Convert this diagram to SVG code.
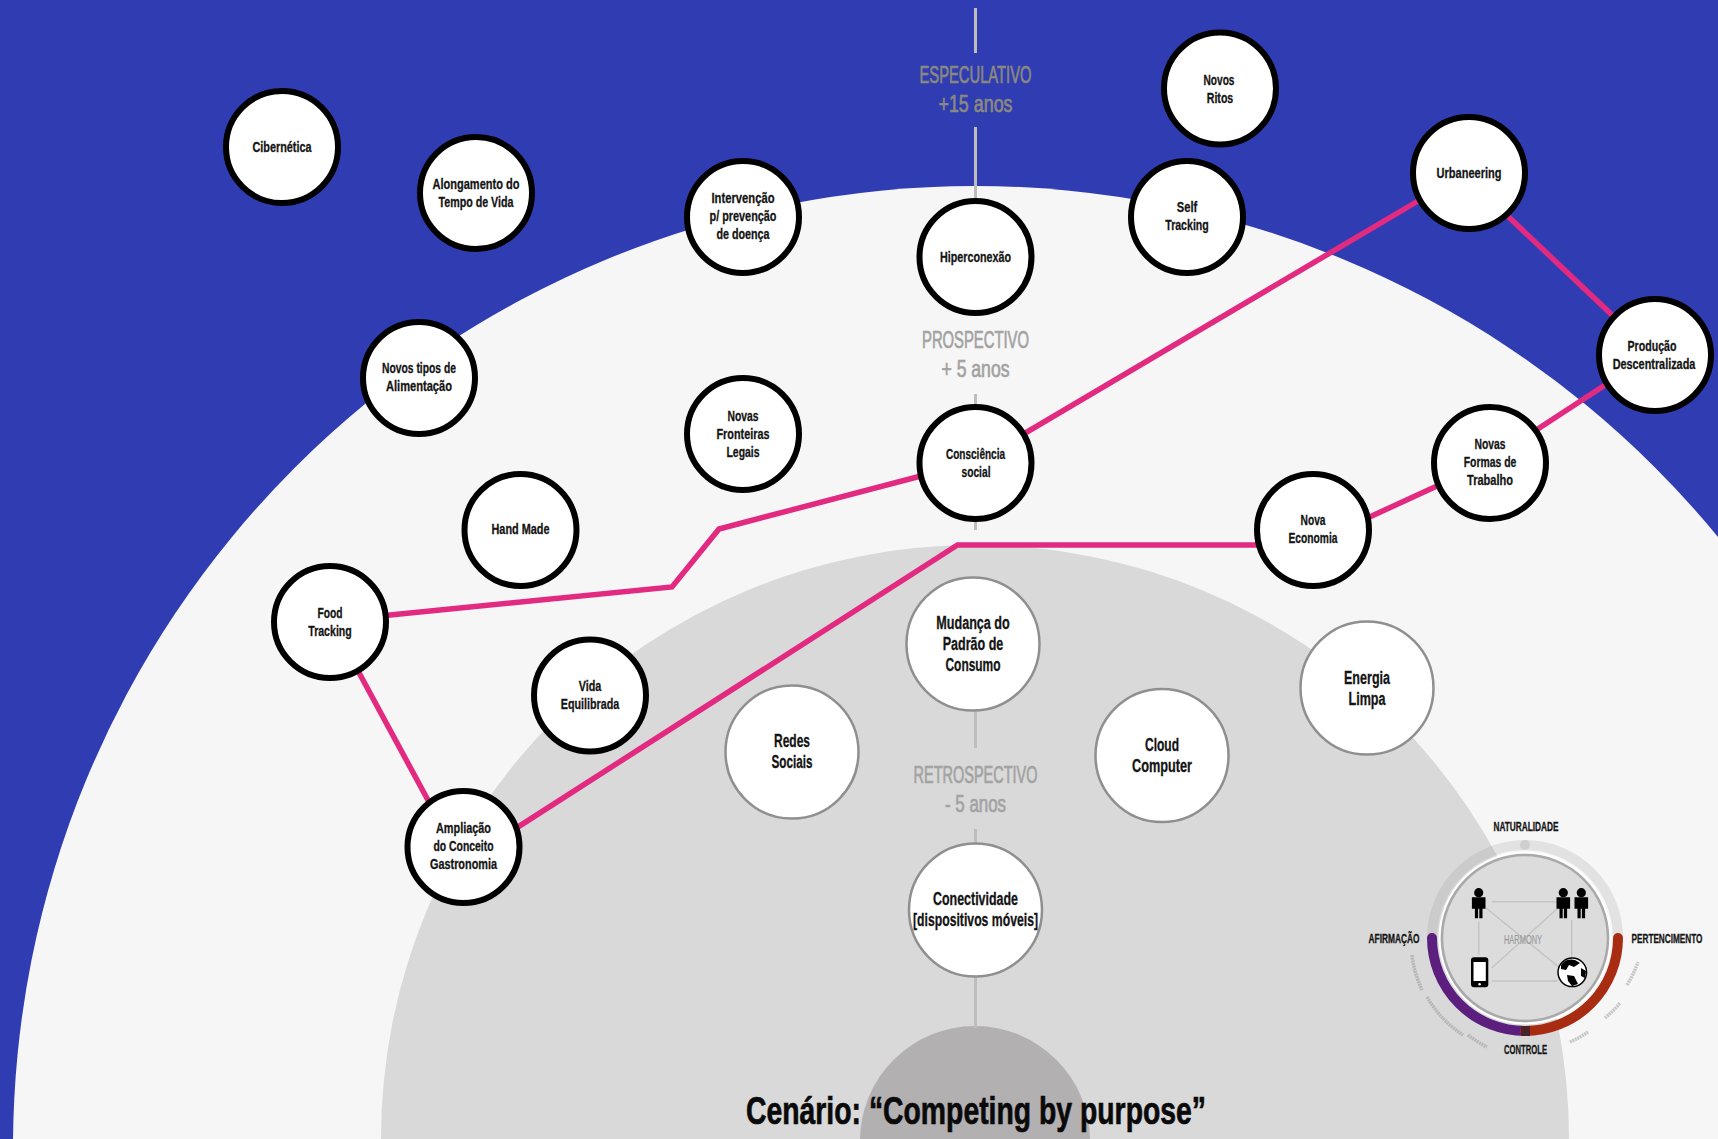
<svg xmlns="http://www.w3.org/2000/svg" xmlns:xlink="http://www.w3.org/1999/xlink" width="1718" height="1139" viewBox="0 0 1718 1139">
<style>
text{font-family:"Liberation Sans Narrow","Liberation Sans",Arial,sans-serif;font-weight:700;text-anchor:middle;fill:#141414;stroke:#141414;stroke-width:.3}
.n circle{fill:#fff;stroke:#000;stroke-width:6}
.n text{font-size:15px}
.g circle{fill:#fff;stroke:#8f8f8f;stroke-width:2.5}
.g text{font-size:18px}
.pink{fill:none;stroke:#e22a80;stroke-width:5.5;stroke-linejoin:miter}
.axis{stroke:#bdbdbd;stroke-width:3;fill:none}
.era{font-size:24px;font-weight:400;fill:#a2a2a2;stroke:#a2a2a2;stroke-width:.7}
.spec{fill:#8b8a80;stroke:#8b8a80}
.thin{stroke:#c4c4c4;stroke-width:1.5;fill:none}
.cap{font-size:12px}
.micro{fill:none;stroke:#8d8d8d;stroke-width:3.5;stroke-dasharray:2 .7;opacity:.45}
.title{font-size:39px;stroke-width:.7;stroke:#0a0a0a;fill:#0a0a0a}
.harm{font-size:13px;font-weight:400;fill:#979797;stroke:#979797;stroke-width:.15}
</style>
<defs>
<g id="person"><circle cx="0" cy="0" r="4.6" fill="#000"/><path d="M-6.8 4.5H6.8V16H3.8V25.500H.6V16H-.6V25.500H-3.800V16H-6.800Z" fill="#000"/></g>
</defs>
<rect id="background" width="1718" height="1139" fill="#303cb2"/>
<circle id="zone-prospective" cx="975" cy="1148" r="962" fill="#f6f6f6"/>
<circle id="zone-retrospective" cx="975" cy="1139" r="594" fill="#d9d9d9"/>
<circle id="zone-core" cx="975" cy="1141" r="115" fill="#b2b0b1"/>

<g id="axis">
<path class="axis" d="M975.5 8V53M975.5 127V200M975.5 394V530M975.5 580V748M975.5 829V850M975.5 975V1028"/>
</g>
<g id="era-labels">
<text class="era spec" x="975.5" y="83" textLength="112" lengthAdjust="spacingAndGlyphs">ESPECULATIVO</text>
<text class="era spec" x="975.5" y="112" textLength="74" lengthAdjust="spacingAndGlyphs">+15 anos</text>
<text class="era" x="975.5" y="348" textLength="107" lengthAdjust="spacingAndGlyphs">PROSPECTIVO</text>
<text class="era" x="975.5" y="377" textLength="68" lengthAdjust="spacingAndGlyphs">+ 5 anos</text>
<text class="era" x="975.5" y="783" textLength="124" lengthAdjust="spacingAndGlyphs">RETROSPECTIVO</text>
<text class="era" x="975.5" y="812" textLength="61" lengthAdjust="spacingAndGlyphs">- 5 anos</text>
</g>

<g id="connectors">
<path class="pink" d="M1440 188L1010 442"/>
<path class="pink" d="M1495 204L1630 332"/>
<path class="pink" d="M1625 372L1521 440"/>
<path class="pink" d="M1450 480L1350 526"/>
<path class="pink" d="M1290 545H957.5L500 838.500"/>
<path class="pink" d="M350 656L436 815"/>
<path class="pink" d="M370 617L672 587L719 529L940 471"/>
</g>

<g id="cibernetica" class="n"><circle cx="282" cy="147" r="56"/><text x="282" y="152" textLength="59" lengthAdjust="spacingAndGlyphs">Cibernética</text></g>
<g id="alongamento" class="n"><circle cx="476" cy="193" r="56"/><text x="476" y="189" textLength="87" lengthAdjust="spacingAndGlyphs">Alongamento do</text><text x="476" y="207" textLength="75" lengthAdjust="spacingAndGlyphs">Tempo de Vida</text></g>
<g id="intervencao" class="n"><circle cx="743" cy="217" r="56"/><text x="743" y="203" textLength="63" lengthAdjust="spacingAndGlyphs">Intervenção</text><text x="743" y="221" textLength="67" lengthAdjust="spacingAndGlyphs">p/ prevenção</text><text x="743" y="239" textLength="53" lengthAdjust="spacingAndGlyphs">de doença</text></g>
<g id="novos-ritos" class="n"><circle cx="1220" cy="88.500" r="56"/><text x="1219" y="85" textLength="31" lengthAdjust="spacingAndGlyphs">Novos</text><text x="1220" y="103" textLength="26.500" lengthAdjust="spacingAndGlyphs">Ritos</text></g>
<g id="self-tracking" class="n"><circle cx="1187" cy="217" r="56"/><text x="1187" y="212" textLength="20.500" lengthAdjust="spacingAndGlyphs">Self</text><text x="1187" y="230" textLength="43.500" lengthAdjust="spacingAndGlyphs">Tracking</text></g>
<g id="urbaneering" class="n"><circle cx="1469" cy="173" r="56"/><text x="1469" y="178" textLength="65" lengthAdjust="spacingAndGlyphs">Urbaneering</text></g>
<g id="hiperconexao" class="n"><circle cx="975.500" cy="257" r="56"/><text x="975.500" y="262" textLength="71" lengthAdjust="spacingAndGlyphs">Hiperconexão</text></g>
<g id="novos-tipos" class="n"><circle cx="419" cy="378" r="56"/><text x="419" y="373" textLength="74" lengthAdjust="spacingAndGlyphs">Novos tipos de</text><text x="419" y="391" textLength="66" lengthAdjust="spacingAndGlyphs">Alimentação</text></g>
<g id="novas-fronteiras" class="n"><circle cx="743" cy="434" r="56"/><text x="743" y="421" textLength="31" lengthAdjust="spacingAndGlyphs">Novas</text><text x="743" y="439" textLength="53" lengthAdjust="spacingAndGlyphs">Fronteiras</text><text x="743" y="457" textLength="33" lengthAdjust="spacingAndGlyphs">Legais</text></g>
<g id="consciencia" class="n"><circle cx="975.500" cy="463" r="56"/><text x="975.500" y="458.500" textLength="59" lengthAdjust="spacingAndGlyphs">Consciência</text><text x="976" y="476.500" textLength="29" lengthAdjust="spacingAndGlyphs">social</text></g>
<g id="producao" class="n"><circle cx="1655" cy="355" r="56"/><text x="1652" y="351" textLength="49" lengthAdjust="spacingAndGlyphs">Produção</text><text x="1654" y="369" textLength="82.600" lengthAdjust="spacingAndGlyphs" style="font-size:14px">Descentralizada</text></g>
<g id="novas-formas" class="n"><circle cx="1490" cy="463" r="56"/><text x="1490" y="449" textLength="31" lengthAdjust="spacingAndGlyphs">Novas</text><text x="1490" y="467" textLength="52.600" lengthAdjust="spacingAndGlyphs">Formas de</text><text x="1490" y="485" textLength="46" lengthAdjust="spacingAndGlyphs">Trabalho</text></g>
<g id="nova-economia" class="n"><circle cx="1313" cy="530" r="56"/><text x="1313" y="525" textLength="25" lengthAdjust="spacingAndGlyphs">Nova</text><text x="1313" y="543" textLength="49" lengthAdjust="spacingAndGlyphs">Economia</text></g>
<g id="hand-made" class="n"><circle cx="520.500" cy="530" r="56"/><text x="520.500" y="534" textLength="58" lengthAdjust="spacingAndGlyphs">Hand Made</text></g>
<g id="food-tracking" class="n"><circle cx="330" cy="622" r="56"/><text x="330" y="617.500" textLength="25" lengthAdjust="spacingAndGlyphs">Food</text><text x="330" y="635.500" textLength="43.500" lengthAdjust="spacingAndGlyphs">Tracking</text></g>
<g id="vida-equilibrada" class="n"><circle cx="590" cy="695.500" r="56"/><text x="590" y="691" textLength="22.500" lengthAdjust="spacingAndGlyphs">Vida</text><text x="590" y="709" textLength="58.500" lengthAdjust="spacingAndGlyphs">Equilibrada</text></g>
<g id="ampliacao" class="n"><circle cx="463.500" cy="847" r="56"/><text x="463.500" y="833" textLength="55" lengthAdjust="spacingAndGlyphs">Ampliação</text><text x="463.500" y="851" textLength="60" lengthAdjust="spacingAndGlyphs">do Conceito</text><text x="463.500" y="869" textLength="67" lengthAdjust="spacingAndGlyphs">Gastronomia</text></g>

<g id="mudanca" class="g"><circle cx="973" cy="644" r="66.500"/><text x="973" y="629" textLength="73.500" lengthAdjust="spacingAndGlyphs">Mudança do</text><text x="973" y="650" textLength="60.500" lengthAdjust="spacingAndGlyphs">Padrão de</text><text x="973" y="671" textLength="55" lengthAdjust="spacingAndGlyphs">Consumo</text></g>
<g id="redes-sociais" class="g"><circle cx="792" cy="752" r="66.500"/><text x="792" y="747" textLength="36" lengthAdjust="spacingAndGlyphs">Redes</text><text x="792" y="768" textLength="41" lengthAdjust="spacingAndGlyphs">Sociais</text></g>
<g id="cloud-computer" class="g"><circle cx="1162" cy="755.500" r="66.500"/><text x="1162" y="750.500" textLength="34" lengthAdjust="spacingAndGlyphs">Cloud</text><text x="1162" y="771.500" textLength="60" lengthAdjust="spacingAndGlyphs">Computer</text></g>
<g id="energia-limpa" class="g"><circle cx="1367" cy="688" r="66.500"/><text x="1367" y="683.500" textLength="46" lengthAdjust="spacingAndGlyphs">Energia</text><text x="1367" y="704.500" textLength="37" lengthAdjust="spacingAndGlyphs">Limpa</text></g>
<g id="conectividade" class="g"><circle cx="975.500" cy="910" r="66.500"/><text x="975.500" y="905" textLength="85" lengthAdjust="spacingAndGlyphs">Conectividade</text><text x="975.500" y="926" textLength="125" lengthAdjust="spacingAndGlyphs">[dispositivos móveis]</text></g>

<text id="title" class="title" x="976" y="1124" textLength="460" lengthAdjust="spacingAndGlyphs">Cenário: “Competing by purpose”</text>

<g id="harmony">
<path d="M1432 938A93 93 0 0 1 1618 938" fill="none" stroke="#8a8a8a" stroke-opacity=".18" stroke-width="10"/>
<circle cx="1525" cy="845" r="5" fill="#cfcfcf"/>
<path d="M1432 938A93 93 0 0 0 1525 1031" fill="none" stroke="#5c1f7e" stroke-width="10" stroke-linecap="round"/>
<path d="M1618 938A93 93 0 0 1 1525 1031" fill="none" stroke="#a82c12" stroke-width="10" stroke-linecap="round"/>
<path d="M1521 1031H1530" stroke="#4a2328" stroke-width="10"/>
<circle cx="1525" cy="938" r="85.500" fill="none" stroke="#fff" stroke-width="2"/>
<circle cx="1525" cy="938" r="83" fill="#dcdcdc" stroke="#a9a9a9" stroke-width="2.500"/>
<path class="thin" d="M1492 901.700H1556.700M1478.700 921.700V955M1491.700 968L1558 908M1486 908L1560 968M1571.700 920V958M1491.700 981H1558"/>
<use xlink:href="#person" href="#person" x="1478.700" y="892.700"/>
<use xlink:href="#person" href="#person" x="1563.300" y="892.700"/>
<use xlink:href="#person" href="#person" x="1581.300" y="892.700"/>
<rect x="1471" y="957.300" width="17.300" height="30" rx="3" fill="#000"/>
<rect x="1473.500" y="962" width="12.300" height="19" fill="#fff"/>
<circle cx="1479.600" cy="984.200" r="1.200" fill="#fff"/>
<circle cx="1572.300" cy="972.300" r="14.300" fill="#fff" stroke="#000" stroke-width="1.500"/>
<path d="M1561 965Q1566 958 1575 960L1580 963L1574 967L1569 965L1566 970L1561 969ZM1567 975L1574 976L1578 984L1572 986L1568 981ZM1581 968L1586 971L1585 978L1581 976Z" fill="#000"/>
<text class="harm" x="1523" y="944" textLength="38" lengthAdjust="spacingAndGlyphs">HARMONY</text>
<text class="cap" x="1526" y="831" textLength="65" lengthAdjust="spacingAndGlyphs">NATURALIDADE</text>
<text class="cap" x="1394" y="943" textLength="51" lengthAdjust="spacingAndGlyphs">AFIRMAÇÃO</text>
<text class="cap" x="1702.500" y="943" textLength="71" lengthAdjust="spacingAndGlyphs" style="text-anchor:end">PERTENCIMENTO</text>
<text class="cap" x="1525.500" y="1054" textLength="43" lengthAdjust="spacingAndGlyphs">CONTROLE</text>
<path class="micro" d="M1412 955A114 114 0 0 0 1422 990M1427 997A114 114 0 0 0 1463 1035M1468 1035A114 114 0 0 0 1487 1047M1570 1042A114 114 0 0 0 1588 1032M1605 1018A114 114 0 0 0 1620 1003M1627 985A114 114 0 0 0 1638 962"/>
</g>
</svg>
